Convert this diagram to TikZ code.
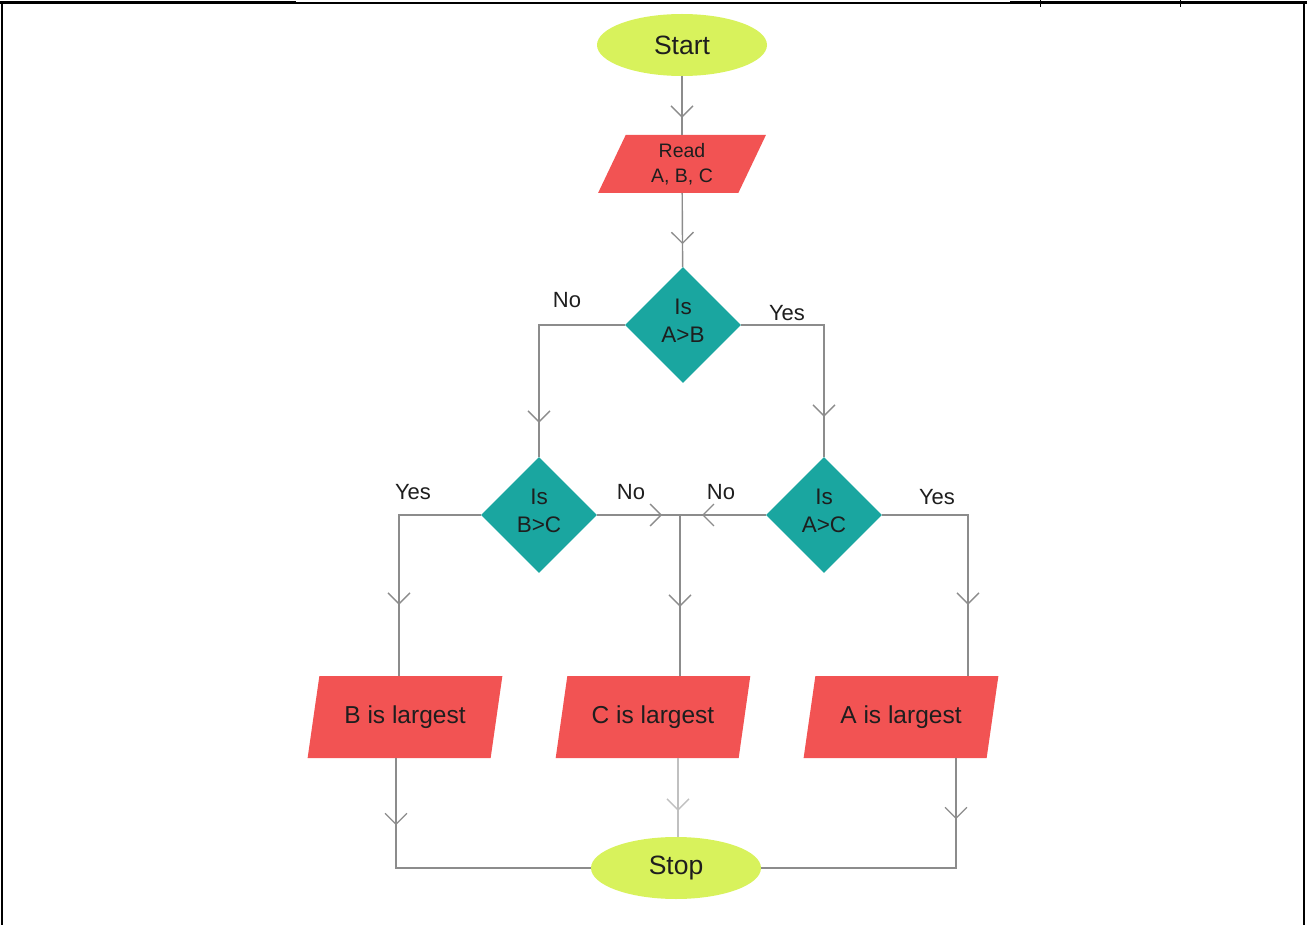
\documentclass[tikz,border=0pt]{standalone}
\usepackage{fontspec}
\setmainfont{Liberation Sans}
\usetikzlibrary{shapes.geometric, arrows.meta, decorations.markings, calc}

\definecolor{termgreen}{HTML}{D8F25C}
\definecolor{iored}{HTML}{F25353}
\definecolor{decteal}{HTML}{1AA6A0}
\definecolor{wire}{HTML}{8C8C8C}
\definecolor{ink}{HTML}{1E1E1E}

% two-line decision text, set a little above the shape's centre
\newcommand\liftup[1]{\raisebox{2pt}[\height][\depth]{\begin{tabular}{@{}c@{}}#1\end{tabular}}}

\tikzset{
  vee/.tip={Straight Barb[length=11pt,width=22pt,line width=1.3pt]},
  terminal/.style={ellipse, fill=termgreen, minimum width=170pt, minimum height=62pt,
    inner sep=0pt, text=ink, font=\fontsize{26.5}{28}\selectfont},
  io/.style={trapezium, trapezium left angle=70, trapezium right angle=110,
    trapezium stretches=true, fill=iored, inner sep=0pt, text=ink, align=center},
  result/.style={io, minimum width=195pt, minimum height=82pt, font=\fontsize{24.5}{26}\selectfont},
  decision/.style={diamond, fill=decteal, minimum width=116pt, minimum height=116pt,
    inner sep=0pt, aspect=1, text=ink, font=\fontsize{22.5}{28}\selectfont},
  wirestyle/.style={draw, color=wire, line width=1.4pt},
  flow/.style={wirestyle, postaction={decorate, decoration={markings,
    mark=at position #1 with {\arrow{vee}}}}},
  tag/.style={text=ink, font=\fontsize{22}{24}\selectfont, inner sep=0pt},
}

\begin{document}
\begin{tikzpicture}[x=1pt, y=-1pt]
  \useasboundingbox (0,0) rectangle (1307,925);

  % page frame
  \draw[black, line width=1.5pt] (2,925) -- (2,3) -- (1304,3) -- (1304,925);
  \draw[black, line width=3pt] (0,2.5) -- (296,2.5);
  \draw[black, line width=3pt] (1010,2.5) -- (1307,2.5);
  \draw[black, line width=1pt] (1040,0) -- (1040,7);
  \draw[black, line width=1pt] (1180,0) -- (1180,7);

  % nodes
  \node[terminal] (start) at (682,45) {Start};
  \node[io, minimum width=169pt, minimum height=58pt,
        font=\fontsize{19.5}{25}\selectfont] (read) at (682,164) {Read\\A, B, C};
  \node[decision] (ab) at (683,325) {\liftup{Is\\A>B}};
  \node[decision] (bc) at (539,515) {\liftup{Is\\B>C}};
  \node[decision] (ac) at (824,515) {\liftup{Is\\A>C}};
  \node[result] (bplg) at (405,717) {B is largest};
  \node[result] (cplg) at (653,717) {C is largest};
  \node[result] (aplg) at (901,717) {A is largest};
  \node[terminal] (stop) at (676,868) {Stop};

  % wire columns
  \coordinate (j) at (680,515);
  \coordinate (colB) at (399,0);
  \coordinate (colA) at (968,0);
  \coordinate (colBo) at (396,0);
  \coordinate (colAo) at (956,0);
  \coordinate (colCo) at (678,0);

  % connectors
  \draw[flow=-17pt] (start) -- (read);
  \draw[flow=-23pt] (read) -- (ab);
  \draw[flow=-34pt] (ab.west) -| (bc.north);
  \draw[flow=-40pt] (ab.east) -| (ac.north);
  \draw[flow=-71pt] (bc.west) -| (bplg.north -| colB);
  \draw[flow=-71pt] (ac.east) -| (aplg.north -| colA);
  \draw[flow=-18pt] (bc.east) -- (j);
  \draw[flow=-22pt] (ac.west) -- (j);
  \draw[flow=-69pt] (j) -- (j |- cplg.north);
  \draw[flow=67pt] (bplg.south -| colBo) |- (stop);
  \draw[flow=61pt] (aplg.south -| colAo) |- (stop);
  \draw[flow=-26pt, color=wire!55] (cplg.south -| colCo) -- (stop.north -| colCo);

  % branch labels
  \node[tag] (abno) at (567,300) {No};
  \node[tag] (abyes) at (787,313) {Yes};
  \node[tag] (bcyes) at (413,492) {Yes};
  \node[tag] (bcno) at (631,492) {No};
  \node[tag] (acno) at (721,492) {No};
  \node[tag] (acyes) at (937,497) {Yes};
\end{tikzpicture}
\end{document}
